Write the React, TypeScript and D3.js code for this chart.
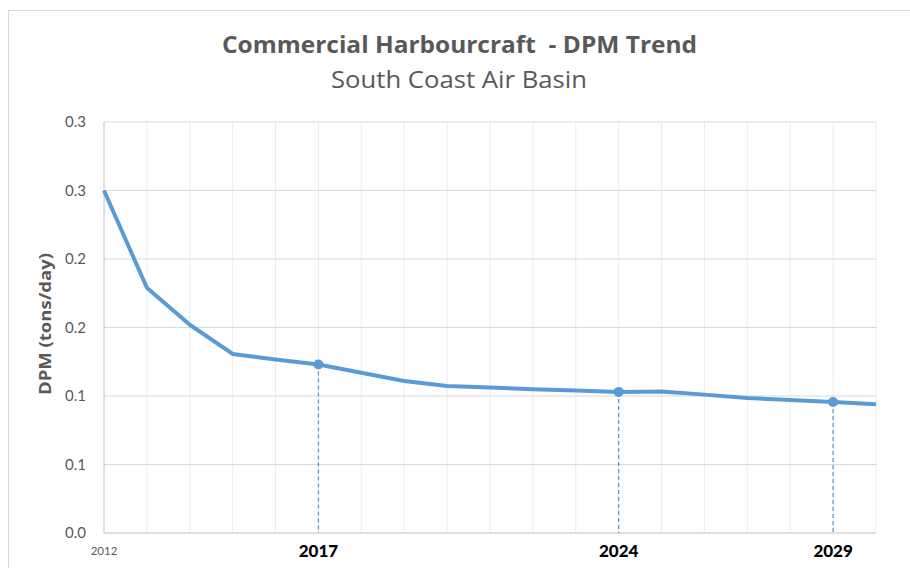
import React from "react";
import * as d3 from "d3";

const years = [2012, 2013, 2014, 2015, 2016, 2017, 2018, 2019, 2020, 2021, 2022, 2023, 2024, 2025, 2026, 2027, 2028, 2029, 2030];
const dpm = [0.250, 0.179, 0.152, 0.1307, 0.1266, 0.123, 0.117, 0.111, 0.1073, 0.1062, 0.105, 0.104, 0.103, 0.1033, 0.101, 0.0985, 0.097, 0.0956, 0.094];
const markedYears = [2017, 2024, 2029];
const yTicks = [0, 0.05, 0.1, 0.15, 0.2, 0.25, 0.3];
const titleText = "Commercial Harbourcraft  - DPM Trend";
const subtitleText = "South Coast Air Basin";
const yAxisTitle = "DPM (tons/day)";

const W = 910, H = 568;
const FONT = "Lato, 'Open Sans', sans-serif";
const TFONT = "'Open Sans', Lato, sans-serif";
const BLUE = "#5b9bd5";

export default function App() {
  const x = d3.scaleLinear().domain([2012, 2030]).range([104, 876]);
  const y = d3.scaleLinear().domain([0, 0.3]).range([533, 122]);
  const line = d3.line<number>().x((_, i) => x(years[i])).y((d) => y(d));
  const fmt = (t: number) => (Math.round(t * 10 + 1e-9) / 10).toFixed(1);
  const valueAt = (yr: number) => dpm[years.indexOf(yr)];

  return (
    <div style={{ position: "absolute", left: 0, top: 0 }}>
      <svg width={W} height={H} style={{ display: "block", background: "#fff" }}>
        <rect x={8.5} y={10.5} width={W + 10} height={H + 10} fill="#fff" stroke="#d9d9d9" strokeWidth={1} />
        <text x={222} y={53} textLength={475} lengthAdjust="spacingAndGlyphs" style={{ whiteSpace: "pre" }} fontFamily={TFONT} fontWeight="bold" fontSize={23} fill="#595959">{titleText}</text>
        <text x={331} y={88} textLength={256} lengthAdjust="spacingAndGlyphs" fontFamily={TFONT} fontSize={23} fill="#595959">{subtitleText}</text>
        {years.slice(1).map((yr) => (
          <line key={"v" + yr} x1={x(yr)} x2={x(yr)} y1={y(0.3)} y2={y(0)} stroke="#ececec" strokeWidth={1} />
        ))}
        {yTicks.slice(1).map((t) => (
          <line key={"h" + t} x1={x(2012)} x2={x(2030)} y1={y(t)} y2={y(t)} stroke="#d9d9d9" strokeWidth={1} />
        ))}
        <line x1={x(2012)} x2={x(2012)} y1={y(0.3)} y2={y(0)} stroke="#bfbfbf" strokeWidth={1} />
        <line x1={x(2012)} x2={x(2030)} y1={y(0)} y2={y(0)} stroke="#bfbfbf" strokeWidth={1} />
        {yTicks.map((t) => (
          <text key={"yl" + t} x={86} y={y(t) + 5} textAnchor="end" fontFamily={FONT} fontSize={15} fill="#595959">{fmt(t)}</text>
        ))}
        <text transform={`translate(51,395) rotate(-90)`} textLength={142} lengthAdjust="spacingAndGlyphs" fontFamily={TFONT} fontWeight="bold" fontSize={16} fill="#595959">{yAxisTitle}</text>
        <text x={x(2012)} y={555} textAnchor="middle" fontFamily={FONT} fontSize={11.5} fill="#595959">{years[0]}</text>
        {markedYears.map((yr) => (
          <text key={"xl" + yr} x={x(yr)} y={557} textAnchor="middle" fontFamily={FONT} fontWeight={900} fontSize={17} fill="#000">{yr}</text>
        ))}
        {markedYears.map((yr) => (
          <line key={"d" + yr} x1={x(yr)} x2={x(yr)} y1={y(valueAt(yr))} y2={y(0)} stroke={BLUE} strokeWidth={1.3} strokeDasharray="4,3" />
        ))}
        <path d={line(dpm) || ""} fill="none" stroke={BLUE} strokeWidth={4} strokeLinejoin="round" />
        {markedYears.map((yr) => (
          <circle key={"c" + yr} cx={x(yr)} cy={y(valueAt(yr))} r={5} fill={BLUE} />
        ))}
      </svg>
    </div>
  );
}
